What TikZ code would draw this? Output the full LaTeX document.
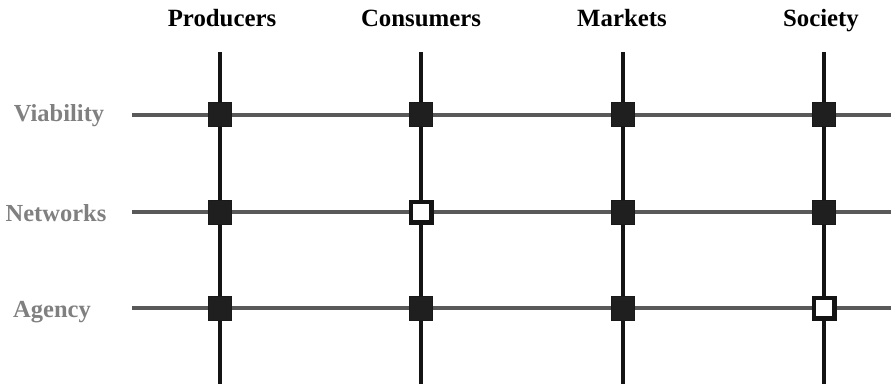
\documentclass[tikz,border=0pt]{standalone}
\usepackage{fontspec}
\setmainfont{Liberation Serif}
\begin{document}
\begin{tikzpicture}[x=1pt,y=-1pt,
  hdr/.style={font=\bfseries\fontsize{24.8}{28}\selectfont, text=black, inner sep=0pt, anchor=base},
  rowlbl/.style={font=\bfseries\fontsize{24.5}{28}\selectfont, text=black!50, inner sep=0pt, anchor=base},
  hline/.style={draw=black!65, line width=4.2pt},
  vline/.style={draw=black!92, line width=3.8pt},
  full/.style={draw=black!90, fill=black!88, minimum width=23pt, minimum height=24pt, inner sep=0pt, line width=1pt},
  hollow/.style={draw=black!92, fill=white, minimum width=20.5pt, minimum height=20.5pt, inner sep=0pt, line width=4.5pt}]
\useasboundingbox (0,0) rectangle (891,385);
% headers
\node[hdr] (hP) at (222,27) {Producers};
\node[hdr] (hC) at (421,27) {Consumers};
\node[hdr] (hM) at (622,27) {Markets};
\node[hdr] (hS) at (821,27) {Society};
% row labels
\node[rowlbl] (rV) at (59,122) {Viability};
\node[rowlbl] (rN) at (56,221) {Networks};
\node[rowlbl] (rA) at (52,317) {Agency};
% coordinates
\foreach \n/\x in {P/220,C/421,M/623,S/824}{
  \coordinate (t\n) at (\x,52);
  \coordinate (b\n) at (\x,384);
}
\foreach \n/\y in {V/115,N/212,A/308}{
  \coordinate (l\n) at (132,\y);
  \coordinate (r\n) at (891,\y);
}
\foreach \n in {V,N,A}{ \draw[hline] (l\n) -- (r\n); }
\foreach \n in {P,C,M,S}{ \draw[vline] (t\n) -- (b\n); }
% markers
\node[full] (PV) at (220,115) {};
\node[full] (CV) at (421,115) {};
\node[full] (MV) at (623,115) {};
\node[full] (SV) at (824,115) {};
\node[full] (PN) at (220,212) {};
\node[hollow] (CN) at (421,212) {};
\node[full] (MN) at (623,212) {};
\node[full] (SN) at (824,212) {};
\node[full] (PA) at (220,308) {};
\node[full] (CA) at (421,308) {};
\node[full] (MA) at (623,308) {};
\node[hollow] (SA) at (824,308) {};
\end{tikzpicture}
\end{document}
